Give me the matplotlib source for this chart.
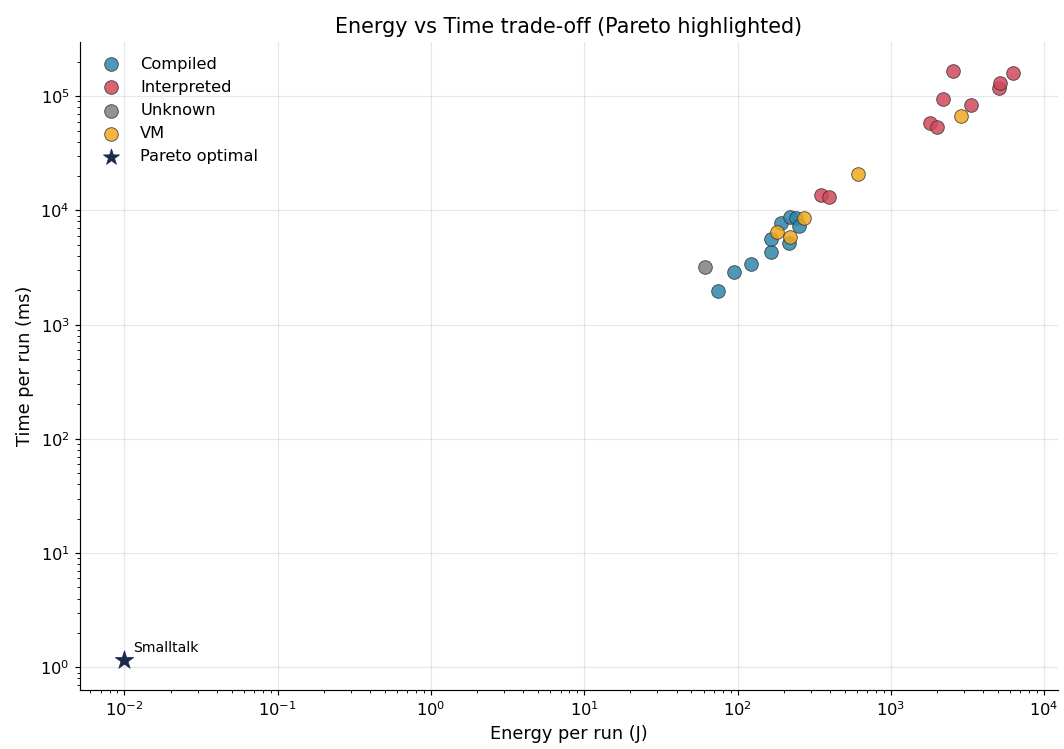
import matplotlib.pyplot as plt
import numpy as np

# ---- data ----
compiled_energy = [74, 95, 122, 166, 164, 192, 221, 242, 253, 218]
compiled_time = [1970, 2880, 3380, 4300, 5600, 7800, 8700, 8550, 7280, 5170]

interp_energy = [348, 397, 1810, 2010, 2200, 2550, 3340, 5090, 5170, 6280]
interp_time = [13600, 13200, 58100, 54100, 94200, 165000, 83400, 117000, 130000, 159000]

unknown_energy = [61]
unknown_time = [3180]

vm_energy = [180, 221, 273, 614, 2880]
vm_time = [6440, 5820, 8550, 20700, 66800]

pareto_names = ["Smalltalk"]
pareto_energy = [0.01]
pareto_time = [1.15]

colors = {"Compiled": "#2E86AB", "Interpreted": "#D1495B", "Unknown": "#808080", "VM": "#F2A81D"}

fig, ax = plt.subplots(figsize=(10, 7.04), dpi=106.4)

groups = [
    ("Compiled", compiled_energy, compiled_time),
    ("Interpreted", interp_energy, interp_time),
    ("Unknown", unknown_energy, unknown_time),
    ("VM", vm_energy, vm_time),
]
for name, e, t in groups:
    ax.scatter(e, t, s=85, c=colors[name], alpha=0.85, edgecolors="#333333",
               linewidths=0.6, label=name, zorder=3)

ax.scatter(pareto_energy, pareto_time, s=170, marker="*", c="#1b2a4a",
           edgecolors="#1b2a4a", linewidths=0.5, label="Pareto optimal", zorder=4)
for name, e, t in zip(pareto_names, pareto_energy, pareto_time):
    ax.annotate(name, (e, t), xytext=(6, 6), textcoords="offset points", fontsize=9.5)

ax.set_xscale("log")
ax.set_yscale("log")
ax.set_xlabel("Energy per run (J)", fontsize=12)
ax.set_ylabel("Time per run (ms)", fontsize=12)
ax.set_title("Energy vs Time trade-off (Pareto highlighted)", fontsize=14)
ax.tick_params(labelsize=11)
ax.grid(True, alpha=0.3)
ax.spines["top"].set_visible(False)
ax.spines["right"].set_visible(False)
leg = ax.legend(loc="upper left", frameon=False, fontsize=11)
leg.legend_handles[4].set_sizes([130])

fig.subplots_adjust(left=0.0752, right=0.994, bottom=0.079, top=0.944)
plt.savefig("out.png")
